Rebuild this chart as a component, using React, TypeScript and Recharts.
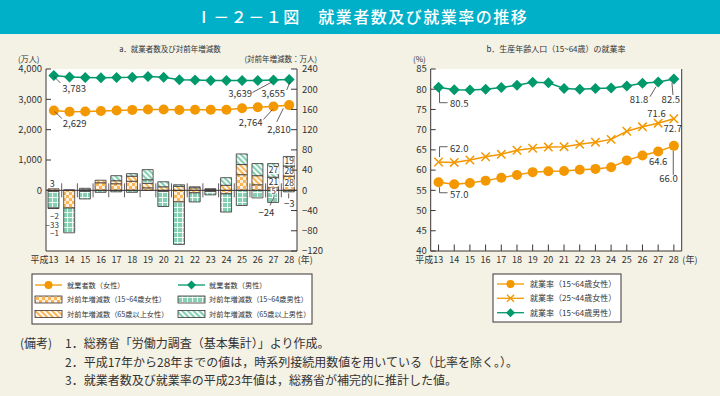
import React from 'react';
import { ComposedChart, Bar, Line, XAxis, YAxis, CartesianGrid, ReferenceLine } from 'recharts';

// 平成13〜28年
const years = [13, 14, 15, 16, 17, 18, 19, 20, 21, 22, 23, 24, 25, 26, 27, 28];

// a. 就業者数（万人）
const womenEmployed = [2629, 2594, 2597, 2616, 2633, 2652, 2667, 2667, 2648, 2656, 2654, 2658, 2707, 2737, 2764, 2810];
const menEmployed = [3783, 3736, 3719, 3713, 3723, 3730, 3753, 3729, 3644, 3634, 3621, 3617, 3620, 3621, 3639, 3655];

// 対前年増減数（万人）
const womenChg1564 = [-2, -35, -2, 15, 13, 18, 5, -2, -23, -5, -2, -7, 31, 11, 5, 28];
const womenChg65 = [3, 0, 1, 5, 6, 10, 9, 7, 8, 5, 2, 10, 20, 18, 21, 20];
const menChg1564 = [-33, -49, -15, -4, -3, -4, 7, -30, -84, -18, -7, -36, -30, -15, -24, -3];
const menChg65 = [-1, 1, 3, 0, 10, 5, 20, 10, 3, 2, 1, 15, 21, 24, 27, 19];

// b. 就業率（%）
const rateWomen1564 = [57.0, 56.5, 56.8, 57.4, 58.1, 58.8, 59.5, 59.7, 59.8, 60.1, 60.3, 60.7, 62.4, 63.6, 64.6, 66.0];
const rateWomen2544 = [62.0, 61.9, 62.5, 63.3, 63.9, 64.9, 65.4, 65.7, 65.8, 66.4, 66.9, 67.6, 69.6, 70.7, 71.6, 72.7];
const rateMen1564 = [80.5, 79.9, 79.8, 80.0, 80.4, 81.0, 81.7, 81.6, 80.2, 80.0, 80.2, 80.3, 80.8, 81.5, 81.8, 82.5];

const countTicks = [0, 1000, 2000, 3000, 4000];
const changeTicks = [-120, -80, -40, 0, 40, 80, 120, 160, 200, 240];
const rateTicks = [40, 45, 50, 55, 60, 65, 70, 75, 80, 85];
const labeledYears = [13, 27, 28];

const FONT = '"Noto Sans CJK JP", "Noto Sans", sans-serif';
const INK = '#3d3436';
const TXT = '#333';
const ORANGE = '#f39800';
const GREEN = '#00996b';
const ORANGE_FILL = '#f8b656';
const GREEN_FILL = '#86cfb3';
const CREAM = '#f4f1e5';
const TEAL = '#00b0c9';

const changeSeries = [womenChg1564, womenChg65, menChg1564, menChg65];
const sum = (a: number[]) => a.reduce((s, v) => s + v, 0);

const anchorOf = (k: number, i: number) => {
  if (!labeledYears.includes(years[i])) return null;
  const v = changeSeries[k][i];
  if (v === 0) return null;
  const col = changeSeries.map((s) => s[i]);
  if (v > 0) {
    if (v >= 5) return sum(col.slice(0, k).filter((x) => x > 0)) + v / 2;
    return sum(col.filter((x) => x > 0));
  }
  return sum(col.filter((x) => x < 0));
};

const countRows = years.map((y, i) => ({
  year: y,
  women: womenEmployed[i],
  men: menEmployed[i],
  w1564: womenChg1564[i],
  w65: womenChg65[i],
  m1564: menChg1564[i],
  m65: menChg65[i],
  a0: anchorOf(0, i),
  a1: anchorOf(1, i),
  a2: anchorOf(2, i),
  a3: anchorOf(3, i),
}));

const rateRows = years.map((y, i) => ({
  year: y,
  w1564: rateWomen1564[i],
  w2544: rateWomen2544[i],
  m1564: rateMen1564[i],
}));

type Callout = { tx: number; ty: number; anchor?: 'start' | 'middle' | 'end'; path?: number[][] };

const callout = (cx: number, cy: number, text: string, c: Callout, size = 9.5) => (
  <>
    {c.path && (
      <polyline
        points={c.path.map(([dx, dy]) => `${cx + dx},${cy + dy}`).join(' ')}
        fill="none"
        stroke={INK}
        strokeWidth={0.8}
      />
    )}
    <text x={cx + c.tx} y={cy + c.ty} dy="0.35em" textAnchor={c.anchor || 'start'} fontSize={size} fill={TXT} fontFamily={FONT}>
      {text}
    </text>
  </>
);

// callout placement, keyed by year
const womenEmpCallouts: Record<number, Callout> = {
  13: { tx: 9, ty: 13.4, path: [[1, 1], [8, 8]] },
  27: { tx: -11, ty: 15.8, anchor: 'end', path: [[-10, 13], [-1, 3]] },
  28: { tx: -22, ty: 24.9, path: [[-12.4, 16.7], [-5.8, 3.3]] },
};
const menEmpCallouts: Record<number, Callout> = {
  13: { tx: 8.5, ty: 13.4, path: [[0, 0.7], [6.5, 7.4]] },
  27: { tx: -21.4, ty: 13.3, anchor: 'end', path: [[-21, 12.5], [-1.4, 2]] },
  28: { tx: -4.1, ty: 13.8, anchor: 'end', path: [[-2.4, 10.5], [0.9, 2.2]] },
};
const menRateCallouts: Record<number, Callout> = {
  13: { tx: 11.5, ty: 16.1, path: [[1, 4], [1, 15.5], [9, 15.5]] },
  27: { tx: -9.9, ty: 18.1, anchor: 'end', path: [[-8.2, 14.8], [-2.2, 4.8]] },
  28: { tx: -3, ty: 20.9, anchor: 'middle', path: [[-0.9, 15.9], [-1.9, 3.9]] },
};
const w2544Callouts: Record<number, Callout> = {
  13: { tx: 11.5, ty: -13.7, path: [[1, -5], [1, -15.3], [9, -15.3]] },
  27: { tx: -1.7, ty: -9.2, anchor: 'middle' },
  28: { tx: -1.1, ty: 9.6, anchor: 'middle' },
};
const w1564Callouts: Record<number, Callout> = {
  13: { tx: 11.5, ty: 12.8, path: [[1, 5], [1, 10.5], [9, 10.5]] },
  27: { tx: 0, ty: 10.2, anchor: 'middle' },
  28: { tx: -5.4, ty: 32.5, anchor: 'middle', path: [[-0.6, 5], [-0.6, 29]] },
};
const negCallouts: Record<number, Callout> = {
  27: { tx: -7, ty: 10, anchor: 'middle', path: [[-3.5, 3], [0.5, -5.5]] },
  28: { tx: 0, ty: 11.5, anchor: 'middle', path: [[-0.5, 1.5], [-0.5, 6.5]] },
};

const fmtCount = (v: number) => v.toLocaleString('en-US');
const fmtRate = (v: number) => v.toFixed(1);
const fmtSigned = (v: number) => (v < 0 ? `−${-v}` : String(v));

const marker = (shape: string, cx: number, cy: number, color: string) => {
  if (shape === 'circle') return <circle cx={cx} cy={cy} r={5} fill={color} />;
  if (shape === 'diamond') {
    const s = 5.5;
    return <polygon points={`${cx},${cy - s} ${cx + s},${cy} ${cx},${cy + s} ${cx - s},${cy}`} fill={color} />;
  }
  const s = 4.2;
  return (
    <path d={`M${cx - s},${cy - s}L${cx + s},${cy + s}M${cx - s},${cy + s}L${cx + s},${cy - s}`} stroke={color} strokeWidth={1.5} fill="none" />
  );
};

const makeDot = (shape: string, color: string, values: number[], specs: Record<number, Callout>, fmt: (v: number) => string) =>
  (p: any) => {
    const { cx, cy, index } = p;
    if (cx == null || cy == null) return <g key={`n${shape}${index}`} />;
    const spec = specs[years[index]];
    return (
      <g key={`d${shape}${index}`}>
        {marker(shape, cx, cy, color)}
        {spec && callout(cx, cy, fmt(values[index]), spec)}
      </g>
    );
  };

const barLabelDot = (k: number) => (p: any) => {
  const { cx, cy, index } = p;
  const key = `bl${k}-${index}`;
  if (cx == null || cy == null) return <g key={key} />;
  const v = changeSeries[k][index];
  const text = fmtSigned(v);
  if (v >= 5) {
    const thin = v < 10;
    const size = thin ? 7.5 : 8.5;
    const yy = thin ? cy + 2 : cy;
    const w = text.length * size * 0.52 + 2;
    return (
      <g key={key}>
        <rect x={cx - w / 2} y={yy - size * 0.45} width={w} height={size * 0.9} fill="#fff" />
        <text x={cx} y={yy} dy="0.35em" textAnchor="middle" fontSize={size} fill={TXT} fontFamily={FONT}>
          {text}
        </text>
      </g>
    );
  }
  if (v > 0) {
    return (
      <text key={key} x={cx - 1.5} y={cy - 4.5} dy="0.35em" textAnchor="middle" fontSize={9} fill={TXT} fontFamily={FONT}>
        {text}
      </text>
    );
  }
  if (index === 0) {
    const rank = changeSeries.slice(0, k).filter((s) => s[index] < 0).length;
    return (
      <text key={key} x={cx + 5} y={cy + 8 + rank * 8.2} dy="0.35em" textAnchor="end" fontSize={8} fill={TXT} fontFamily={FONT}>
        {text}
      </text>
    );
  }
  const spec = negCallouts[years[index]];
  return <g key={key}>{spec && callout(cx, cy, text, spec)}</g>;
};

const XTick = (p: any) => {
  const { x, y, payload, index, marks } = p;
  const last = years.length - 1;
  return (
    <g>
      {marks && <line x1={x} x2={x} y1={y - 6.5} y2={y} stroke={INK} strokeWidth={1} />}
      <text x={index === 0 ? x + 4.6 : x} y={y + 12} textAnchor={index === 0 ? 'end' : 'middle'} fontSize={9} fill={TXT} fontFamily={FONT}>
        {index === 0 ? `平成${payload.value}` : payload.value}
      </text>
      {index === last && (
        <text x={x + 8.5} y={y + 12} fontSize={9} fill={TXT} fontFamily={FONT}>
          (年)
        </text>
      )}
    </g>
  );
};

const YTickLeft = (p: any) => {
  const { x, y, payload, fmt } = p;
  return (
    <g>
      <line x1={x + 4} x2={x + 9} y1={y} y2={y} stroke={INK} strokeWidth={1} />
      <text x={x} y={y} dy="0.35em" textAnchor="end" fontSize={9.5} fill={TXT} fontFamily={FONT}>
        {fmt(payload.value)}
      </text>
    </g>
  );
};

const YTickRight = (p: any) => {
  const { x, y, payload } = p;
  return (
    <g>
      <line x1={x - 11} x2={x - 5} y1={y} y2={y} stroke={INK} strokeWidth={1} />
      <text x={x} y={y} dy="0.35em" textAnchor="start" fontSize={9.5} fill={TXT} fontFamily={FONT}>
        {fmtSigned(payload.value)}
      </text>
    </g>
  );
};

const ZeroLine = (props: any) => {
  const { x1, x2, y1 } = props;
  if (x1 == null) return <g />;
  const step = (x2 - x1) / years.length;
  return (
    <g>
      <line x1={x1} x2={x2} y1={y1} y2={y1} stroke={INK} strokeWidth={1} />
      {years.slice(1).map((_, i) => {
        const x = x1 + step * (i + 1);
        return <line key={i} x1={x} x2={x} y1={y1 - 7} y2={y1 + 7} stroke={INK} strokeWidth={0.8} />;
      })}
    </g>
  );
};

const Patterns = () => (
  <defs>
    <pattern id="pWck" width="6" height="6" patternUnits="userSpaceOnUse">
      <rect width="6" height="6" fill={ORANGE_FILL} />
      <rect x="0" y="0" width="3" height="3" fill="#fff" opacity="0.8" />
      <rect x="3" y="3" width="3" height="3" fill="#fff" opacity="0.8" />
    </pattern>
    <pattern id="pMck" width="5" height="5" patternUnits="userSpaceOnUse">
      <rect width="5" height="5" fill={GREEN_FILL} />
      <rect x="2" y="0" width="1" height="5" fill="#fff" opacity="0.85" />
      <rect x="0" y="2" width="5" height="1" fill="#fff" opacity="0.85" />
    </pattern>
    <pattern id="pWht" width="4" height="4" patternUnits="userSpaceOnUse" patternTransform="rotate(-45)">
      <rect width="4" height="4" fill="#fff" />
      <rect width="2.2" height="4" fill={ORANGE_FILL} />
    </pattern>
    <pattern id="pMht" width="4" height="4" patternUnits="userSpaceOnUse" patternTransform="rotate(-45)">
      <rect width="4" height="4" fill="#fff" />
      <rect width="2.2" height="4" fill={GREEN_FILL} />
    </pattern>
  </defs>
);

const LineKey = ({ x, y, shape, color }: { x: number; y: number; shape: string; color: string }) => (
  <g>
    <line x1={x} x2={x + 27} y1={y} y2={y} stroke={color} strokeWidth={1.3} />
    {shape === 'circle' ? (
      <circle cx={x + 13.5} cy={y} r={4} fill={color} />
    ) : shape === 'diamond' ? (
      <polygon points={`${x + 13.5},${y - 4.5} ${x + 18},${y} ${x + 13.5},${y + 4.5} ${x + 9},${y}`} fill={color} />
    ) : (
      <path d={`M${x + 10},${y - 3.5}L${x + 17},${y + 3.5}M${x + 10},${y + 3.5}L${x + 17},${y - 3.5}`} stroke={color} strokeWidth={1.4} />
    )}
  </g>
);

const SwatchKey = ({ x, y, fill }: { x: number; y: number; fill: string }) => (
  <rect x={x} y={y - 3.5} width={27} height={7} fill={fill} stroke={INK} strokeWidth={0.8} />
);

const Overlay = () => {
  const t = (x: number, y: number, s: string, size: number, anchor: 'start' | 'middle' | 'end' = 'start') => (
    <text x={x} y={y} dy="0.35em" fontSize={size} textAnchor={anchor} fill={TXT} fontFamily={FONT}>
      {s}
    </text>
  );
  return (
    <svg width={720} height={396} style={{ position: 'absolute', left: 0, top: 0 }}>
      <Patterns />
      <rect x={0} y={0} width={720} height={34} fill={TEAL} />
      <text x={362} y={17} dy="0.35em" textAnchor="middle" fontSize={16} fill="#fff" fontFamily={FONT} letterSpacing={1.5} fontWeight={500}>
        Ⅰ－２－１図　就業者数及び就業率の推移
      </text>

      {t(170, 49.3, 'a．就業者数及び対前年増減数', 7.5, 'middle')}
      {t(18, 59.3, '(万人)', 8)}
      {t(317, 59.3, '(対前年増減数：万人)', 7.5, 'end')}
      {t(556, 49.3, 'b．生産年齢人口（15~64歳）の就業率', 8, 'middle')}
      {t(413, 59.3, '(%)', 8)}

      <rect x={32} y={274} width={280} height={50} fill="#fff" stroke={INK} strokeWidth={1} />
      <LineKey x={35} y={285} shape="circle" color={ORANGE} />
      {t(67, 285, '就業者数（女性）', 7.2)}
      <LineKey x={178} y={285} shape="diamond" color={GREEN} />
      {t(209, 285, '就業者数（男性）', 7.2)}
      <SwatchKey x={35} y={299.5} fill="url(#pWck)" />
      {t(67, 299.5, '対前年増減数（15~64歳女性）', 7.2)}
      <SwatchKey x={178} y={299.5} fill="url(#pMck)" />
      {t(209, 299.5, '対前年増減数（15~64歳男性）', 7.2)}
      <SwatchKey x={35} y={314} fill="url(#pWht)" />
      {t(67, 314, '対前年増減数（65歳以上女性）', 7.2)}
      <SwatchKey x={178} y={314} fill="url(#pMht)" />
      {t(209, 314, '対前年増減数（65歳以上男性）', 7.2)}

      <rect x={493} y={274} width={128} height={48} fill="#fff" stroke={INK} strokeWidth={1} />
      <LineKey x={497} y={284} shape="circle" color={ORANGE} />
      {t(530, 284, '就業率（15~64歳女性）', 8)}
      <LineKey x={497} y={298.3} shape="cross" color={ORANGE} />
      {t(530, 298.3, '就業率（25~44歳女性）', 8)}
      <LineKey x={497} y={312.7} shape="diamond" color={GREEN} />
      {t(530, 312.7, '就業率（15~64歳男性）', 8)}

      {t(20, 344, '(備考)', 12)}
      {t(65, 344, '1．総務省「労働力調査（基本集計）」より作成。', 12)}
      {t(65, 362.5, '2．平成17年から28年までの値は，時系列接続用数値を用いている（比率を除く。）。', 12)}
      {t(65, 381, '3．就業者数及び就業率の平成23年値は，総務省が補完的に推計した値。', 12)}
    </svg>
  );
};

const labelLine = (k: number) => (
  <Line
    key={`lab${k}`}
    yAxisId="chg"
    dataKey={`a${k}`}
    stroke="none"
    dot={barLabelDot(k)}
    activeDot={false}
    legendType="none"
    isAnimationActive={false}
  />
);

const CountChart = () => (
  <ComposedChart width={360} height={271} data={countRows} margin={{ top: 69, right: 23, bottom: 0, left: 6 }} stackOffset="sign" barSize={11}>
    <CartesianGrid yAxisId="count" horizontal={false} vertical={false} fill="#fff" stroke="none" />
    <XAxis dataKey="year" interval={0} height={20} tickSize={0} tickMargin={0} tickLine={false} axisLine={{ stroke: INK }} tick={(p: any) => <XTick {...p} />} />
    <YAxis
      yAxisId="count"
      domain={[-2000, 4000]}
      ticks={countTicks}
      interval={0}
      width={40}
      tickSize={0}
      tickMargin={4}
      tickLine={false}
      axisLine={{ stroke: INK }}
      tick={(p: any) => <YTickLeft {...p} fmt={fmtCount} />}
    />
    <YAxis
      yAxisId="chg"
      orientation="right"
      domain={[-120, 240]}
      ticks={changeTicks}
      interval={0}
      width={40}
      tickSize={0}
      tickMargin={5}
      tickLine={false}
      axisLine={{ stroke: INK }}
      tick={(p: any) => <YTickRight {...p} />}
    />
    <Bar yAxisId="chg" dataKey="w1564" stackId="chg" fill="url(#pWck)" stroke={INK} strokeWidth={0.8} barSize={11} isAnimationActive={false} />
    <Bar yAxisId="chg" dataKey="w65" stackId="chg" fill="url(#pWht)" stroke={INK} strokeWidth={0.8} barSize={11} isAnimationActive={false} />
    <Bar yAxisId="chg" dataKey="m1564" stackId="chg" fill="url(#pMck)" stroke={INK} strokeWidth={0.8} barSize={11} isAnimationActive={false} />
    <Bar yAxisId="chg" dataKey="m65" stackId="chg" fill="url(#pMht)" stroke={INK} strokeWidth={0.8} barSize={11} isAnimationActive={false} />
    <ReferenceLine yAxisId="chg" y={0} shape={ZeroLine} />
    <Line
      yAxisId="count"
      dataKey="women"
      stroke={ORANGE}
      strokeWidth={1.5}
      dot={makeDot('circle', ORANGE, womenEmployed, womenEmpCallouts, fmtCount)}
      activeDot={false}
      isAnimationActive={false}
    />
    <Line
      yAxisId="count"
      dataKey="men"
      stroke={GREEN}
      strokeWidth={1.5}
      dot={makeDot('diamond', GREEN, menEmployed, menEmpCallouts, fmtCount)}
      activeDot={false}
      isAnimationActive={false}
    />
    {[0, 1, 2, 3].map(labelLine)}
  </ComposedChart>
);

const RateChart = () => (
  <ComposedChart width={360} height={271} data={rateRows} margin={{ top: 69, right: 37.3, bottom: 0, left: 30.7 }}>
    <CartesianGrid yAxisId="rate" horizontal={false} vertical={false} fill="#fff" stroke="none" />
    <XAxis
      dataKey="year"
      scale="band"
      interval={0}
      height={20}
      tickSize={0}
      tickMargin={0}
      tickLine={false}
      axisLine={{ stroke: INK }}
      tick={(p: any) => <XTick {...p} marks />}
    />
    <YAxis
      yAxisId="rate"
      domain={[40, 85]}
      ticks={rateTicks}
      interval={0}
      width={40}
      tickSize={0}
      tickMargin={4}
      tickLine={false}
      axisLine={{ stroke: INK }}
      tick={(p: any) => <YTickLeft {...p} fmt={String} />}
    />
    <YAxis yAxisId="frame" orientation="right" domain={[40, 85]} width={1} tick={false} tickLine={false} axisLine={{ stroke: INK }} />
    <Line
      yAxisId="rate"
      dataKey="m1564"
      stroke={GREEN}
      strokeWidth={1.5}
      dot={makeDot('diamond', GREEN, rateMen1564, menRateCallouts, fmtRate)}
      activeDot={false}
      isAnimationActive={false}
    />
    <Line
      yAxisId="rate"
      dataKey="w2544"
      stroke={ORANGE}
      strokeWidth={1.5}
      dot={makeDot('cross', ORANGE, rateWomen2544, w2544Callouts, fmtRate)}
      activeDot={false}
      isAnimationActive={false}
    />
    <Line
      yAxisId="rate"
      dataKey="w1564"
      stroke={ORANGE}
      strokeWidth={1.5}
      dot={makeDot('circle', ORANGE, rateWomen1564, w1564Callouts, fmtRate)}
      activeDot={false}
      isAnimationActive={false}
    />
  </ComposedChart>
);

export default function App() {
  return (
    <div style={{ position: 'absolute', left: 0, top: 0, width: 720, height: 396, background: CREAM, overflow: 'hidden', fontFamily: FONT }}>
      <Overlay />
      <div style={{ position: 'absolute', left: 0, top: 0 }}>
        <CountChart />
      </div>
      <div style={{ position: 'absolute', left: 360, top: 0 }}>
        <RateChart />
      </div>
    </div>
  );
}
